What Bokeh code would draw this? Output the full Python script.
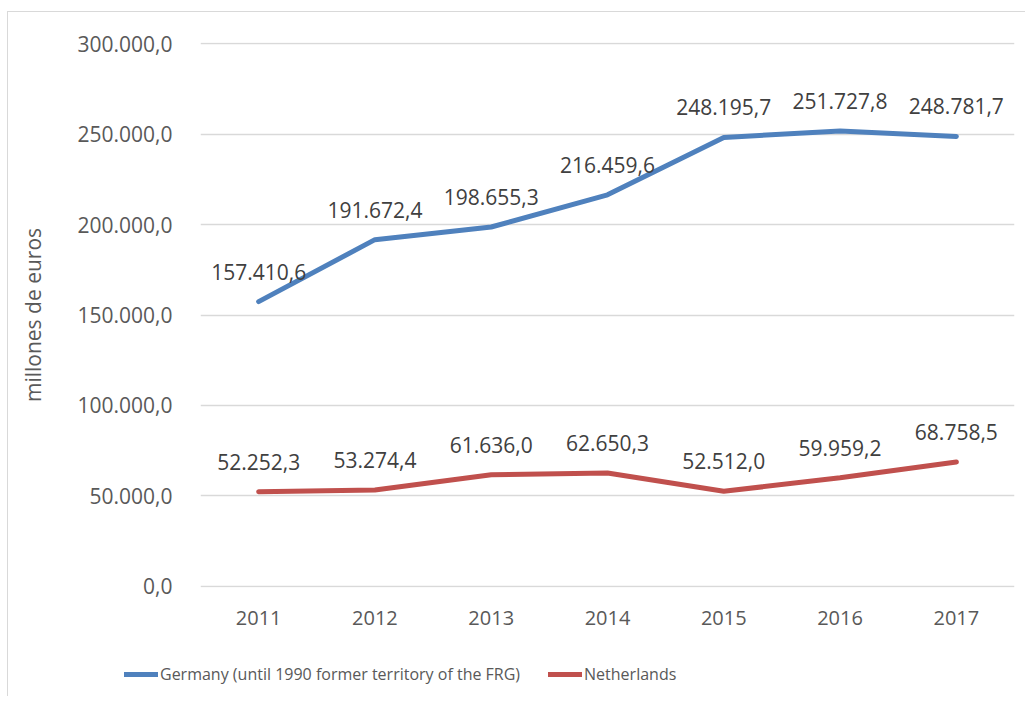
from bokeh.plotting import figure
from bokeh.models import ColumnDataSource, FixedTicker, Legend, LegendItem, LabelSet
from bokeh.layouts import column, row
from bokeh.core.properties import value
from bokeh.embed import file_html
from bokeh.resources import INLINE

years = ["2011", "2012", "2013", "2014", "2015", "2016", "2017"]
germany = [157410.6, 191672.4, 198655.3, 216459.6, 248195.7, 251727.8, 248781.7]
netherlands = [52252.3, 53274.4, 61636.0, 62650.3, 52512.0, 59959.2, 68758.5]
y_ticks = [0, 50000, 100000, 150000, 200000, 250000, 300000]
series_names = ["Germany (until 1990 former territory of the FRG)", "Netherlands"]
y_label = "millones de euros"
colors = ["#4f81bd", "#c0504d"]


def es_fmt(v):
    s = f"{v:,.1f}"
    return s.replace(",", "X").replace(".", ",").replace("X", ".")


FONT = "Open Sans"
TXT = "#595959"

p = figure(x_range=years, y_range=(-700, 300700), width=1018, height=633,
           output_backend="svg", toolbar_location=None,
           min_border_left=192, min_border_top=30, min_border_right=12,
           min_border_bottom=58)
p.margin = (11, 0, 0, 7)
p.styles = {"border-left": "1px solid #d9d9d9", "border-top": "1px solid #d9d9d9"}
p.outline_line_color = None

src_g = ColumnDataSource(dict(x=years, y=germany, t=[es_fmt(v) for v in germany]))
src_n = ColumnDataSource(dict(x=years, y=netherlands, t=[es_fmt(v) for v in netherlands]))

p.line("x", "y", source=src_g, line_color=colors[0], line_width=5, line_cap="round")
p.line("x", "y", source=src_n, line_color=colors[1], line_width=5, line_cap="round")

for src in (src_g, src_n):
    lbl = LabelSet(x="x", y="y", text="t", source=src, y_offset=30,
                   text_align="center", text_baseline="middle",
                   text_font=value(FONT), text_font_size=value("21px"),
                   text_color="#404040")
    p.add_layout(lbl)

p.yaxis.ticker = FixedTicker(ticks=y_ticks)
p.yaxis.major_label_overrides = {t: es_fmt(t) for t in y_ticks}
for ax in (p.xaxis, p.yaxis):
    ax.axis_line_color = None
    ax.major_tick_line_color = None
    ax.minor_tick_line_color = None
    ax.major_label_text_font = FONT
    ax.major_label_text_color = TXT
p.xaxis.major_label_text_font_size = "20px"
p.yaxis.major_label_text_font_size = "21px"
p.yaxis.major_label_standoff = 22
p.xaxis.major_label_standoff = 17
p.yaxis.axis_label = y_label
p.yaxis.axis_label_text_font = FONT
p.yaxis.axis_label_text_font_size = "21px"
p.yaxis.axis_label_text_font_style = "normal"
p.yaxis.axis_label_text_color = TXT
p.yaxis.axis_label_standoff = 27

p.xgrid.grid_line_color = None
p.ygrid.grid_line_color = "#d9d9d9"
p.ygrid.grid_line_width = 1.5

# legend strip below the chart (series drawn out of view; only the legend shows)
p2 = figure(width=1018, height=52, x_range=years, y_range=(0, 1),
            output_backend="svg", toolbar_location=None,
            x_axis_type=None, y_axis_type=None, min_border=0)
p2.margin = (0, 0, 0, 7)
p2.styles = {"border-left": "1px solid #d9d9d9"}
p2.outline_line_color = None
p2.grid.visible = False
lg = p2.line("x", "y", source=src_g, line_color=colors[0], line_width=5, line_cap="round")
ln = p2.line("x", "y", source=src_n, line_color=colors[1], line_width=5, line_cap="round")
legend = Legend(items=[LegendItem(label=series_names[0], renderers=[lg]),
                       LegendItem(label=series_names[1], renderers=[ln])],
                orientation="horizontal", location=(116, 11),
                label_text_font=FONT, label_text_font_size="16px",
                label_text_color=TXT, glyph_width=34, label_standoff=2,
                spacing=28, padding=4, border_line_color=None,
                background_fill_alpha=0)
p2.add_layout(legend, "center")

layout = column(p, row(p2), spacing=0)
open("out.html", "w").write(file_html(layout, INLINE))
